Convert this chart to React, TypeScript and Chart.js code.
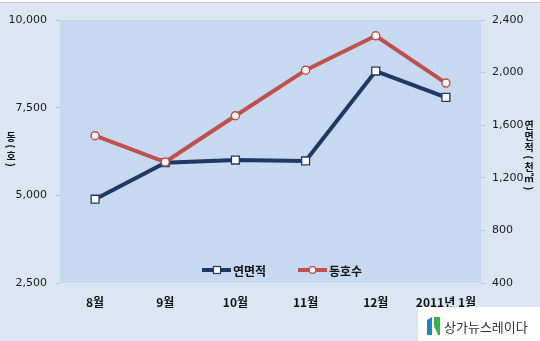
import React, { useEffect, useRef } from "react";
import { Chart, registerables } from "chart.js";

Chart.register(...registerables);

const categories = ["8월", "9월", "10월", "11월", "12월", "2011년 1월"];
const donghosu = [6700, 5950, 7270, 8570, 9550, 8200];
const yeonmyeonjeok = [1037, 1315, 1335, 1328, 2012, 1812];
const seriesNames = ["연면적", "동호수"];
const leftTitle = ["동", "(", "호", ")"];
const rightTitle = ["연", "면", "적", "(", "천", "㎡", ")"];
const logoText = "상가뉴스레이다";

const NAVY = "#1f3864";
const RED = "#c0504d";
const OUTER = "#dce6f2";
const PLOT = "#c6d9f1";

const bgPlugin = {
  id: "bgPlugin",
  beforeDraw(chart: any) {
    const { ctx, chartArea, width, height } = chart;
    ctx.save();
    ctx.fillStyle = OUTER;
    ctx.fillRect(0, 0, width, height);
    ctx.fillStyle = "#ffffff";
    ctx.fillRect(0, 0, width, 2);
    ctx.fillStyle = "#c4c8cc";
    ctx.fillRect(0, 2, width, 1);
    ctx.fillStyle = PLOT;
    ctx.fillRect(chartArea.left, chartArea.top, chartArea.right - chartArea.left, chartArea.bottom - chartArea.top);
    ctx.restore();
  },
};

function drawVertical(ctx: any, chars: string[], x: number, y0: number, advCjk: number, advParen: number) {
  let y = y0;
  for (const c of chars) {
    const isParen = c === "(" || c === ")";
    const adv = isParen ? advParen : advCjk;
    const cy = y + adv / 2;
    ctx.save();
    ctx.translate(x, cy);
    if (isParen) ctx.rotate(Math.PI / 2);
    ctx.fillText(c, 0, 0);
    ctx.restore();
    y += adv;
  }
}

const overlayPlugin = {
  id: "overlayPlugin",
  afterDraw(chart: any) {
    const { ctx, width, height } = chart;
    ctx.save();
    // axis titles
    ctx.fillStyle = "#111111";
    ctx.font = "bold 10px 'Noto Sans CJK KR'";
    ctx.textAlign = "center";
    ctx.textBaseline = "middle";
    drawVertical(ctx, leftTitle, 11, 132, 10.5, 8);
    drawVertical(ctx, rightTitle, 529, 120, 11, 9);

    // legend
    const ly = 270;
    ctx.lineWidth = 4;
    ctx.strokeStyle = NAVY;
    ctx.beginPath();
    ctx.moveTo(202, ly);
    ctx.lineTo(231, ly);
    ctx.stroke();
    ctx.fillStyle = "#ffffff";
    ctx.fillRect(213.5, ly - 3.5, 7, 7);
    ctx.lineWidth = 1.2;
    ctx.strokeRect(213.5, ly - 3.5, 7, 7);

    ctx.lineWidth = 4;
    ctx.strokeStyle = RED;
    ctx.beginPath();
    ctx.moveTo(298, ly);
    ctx.lineTo(327, ly);
    ctx.stroke();
    ctx.beginPath();
    ctx.arc(312.5, ly, 3.3, 0, Math.PI * 2);
    ctx.fillStyle = "#ffffff";
    ctx.fill();
    ctx.lineWidth = 1.3;
    ctx.stroke();

    ctx.fillStyle = "#111111";
    ctx.font = "bold 12px 'Noto Sans CJK KR'";
    ctx.textAlign = "left";
    ctx.fillText(seriesNames[0], 233, ly + 1);
    ctx.fillText(seriesNames[1], 329, ly + 1);

    // logo box
    ctx.fillStyle = "#ffffff";
    ctx.fillRect(418, 307, width - 418, height - 307);
    ctx.fillStyle = "#1a86c8";
    ctx.beginPath();
    ctx.moveTo(427, 320);
    ctx.lineTo(432, 317);
    ctx.lineTo(432, 335);
    ctx.lineTo(427, 335);
    ctx.closePath();
    ctx.fill();
    ctx.fillStyle = "#3cb04a";
    ctx.beginPath();
    ctx.moveTo(434, 317);
    ctx.lineTo(440, 317);
    ctx.lineTo(440, 335);
    ctx.lineTo(438, 335);
    ctx.lineTo(434, 326);
    ctx.closePath();
    ctx.fill();
    ctx.fillStyle = "#333333";
    ctx.font = "13px 'Noto Sans CJK KR'";
    ctx.textAlign = "left";
    ctx.textBaseline = "middle";
    ctx.fillText(logoText, 444, 327);
    ctx.restore();
  },
};

export default function App() {
  const ref = useRef<HTMLCanvasElement | null>(null);
  useEffect(() => {
    document.body.style.margin = "0";
    const canvas = ref.current;
    if (!canvas) return;
    const tickFont = { family: "'DejaVu Sans'", size: 11 };
    const chart = new Chart(canvas, {
      type: "line",
      data: {
        labels: categories,
        datasets: [
          {
            label: seriesNames[1],
            data: donghosu,
            yAxisID: "y",
            borderColor: RED,
            backgroundColor: "#ffffff",
            borderWidth: 4,
            pointStyle: "circle",
            pointRadius: 4,
            pointBorderWidth: 1.5,
            pointBorderColor: RED,
            pointBackgroundColor: "#ffffff",
            tension: 0,
          },
          {
            label: seriesNames[0],
            data: yeonmyeonjeok,
            yAxisID: "y1",
            borderColor: NAVY,
            backgroundColor: "#ffffff",
            borderWidth: 4,
            pointStyle: "rect",
            pointRadius: 5.6,
            pointBorderWidth: 1.3,
            pointBorderColor: NAVY,
            pointBackgroundColor: "#ffffff",
            tension: 0,
          },
        ],
      },
      options: {
        responsive: false,
        animation: false,
        layout: { padding: { top: 20, left: 0, right: 0, bottom: 0 } },
        plugins: { legend: { display: false }, tooltip: { enabled: false } },
        scales: {
          x: {
            offset: true,
            grid: { display: false, drawTicks: false },
            border: { display: false },
            ticks: {
              color: "#111111",
              padding: 12,
              maxRotation: 0,
              autoSkip: false,
              font: { family: "'Noto Sans CJK KR'", size: 12, weight: "bold" },
            },
            afterFit: (s: any) => {
              s.height = 58;
            },
          },
          y: {
            position: "left",
            min: 2500,
            max: 10000,
            grid: { display: true, drawOnChartArea: false, drawTicks: true, tickLength: 4, color: "#b8c8dc" },
            border: { display: false },
            ticks: {
              stepSize: 2500,
              padding: 9,
              color: "#1a1a1a",
              font: tickFont,
              callback: (v: any) => Number(v).toLocaleString("en-US"),
            },
            afterFit: (s: any) => {
              s.width = 60;
            },
          },
          y1: {
            position: "right",
            min: 400,
            max: 2400,
            grid: { display: true, drawOnChartArea: false, drawTicks: true, tickLength: 4, color: "#b8c8dc" },
            border: { display: false },
            ticks: {
              stepSize: 400,
              padding: 7,
              color: "#1a1a1a",
              font: tickFont,
              callback: (v: any) => Number(v).toLocaleString("en-US"),
            },
            afterFit: (s: any) => {
              s.width = 59;
            },
          },
        },
      },
      plugins: [bgPlugin, overlayPlugin],
    } as any);
    return () => chart.destroy();
  }, []);
  return (
    <div style={{ width: 540, height: 341 }}>
      <canvas ref={ref} width={540} height={341} style={{ display: "block", width: 540, height: 341 }} />
    </div>
  );
}
